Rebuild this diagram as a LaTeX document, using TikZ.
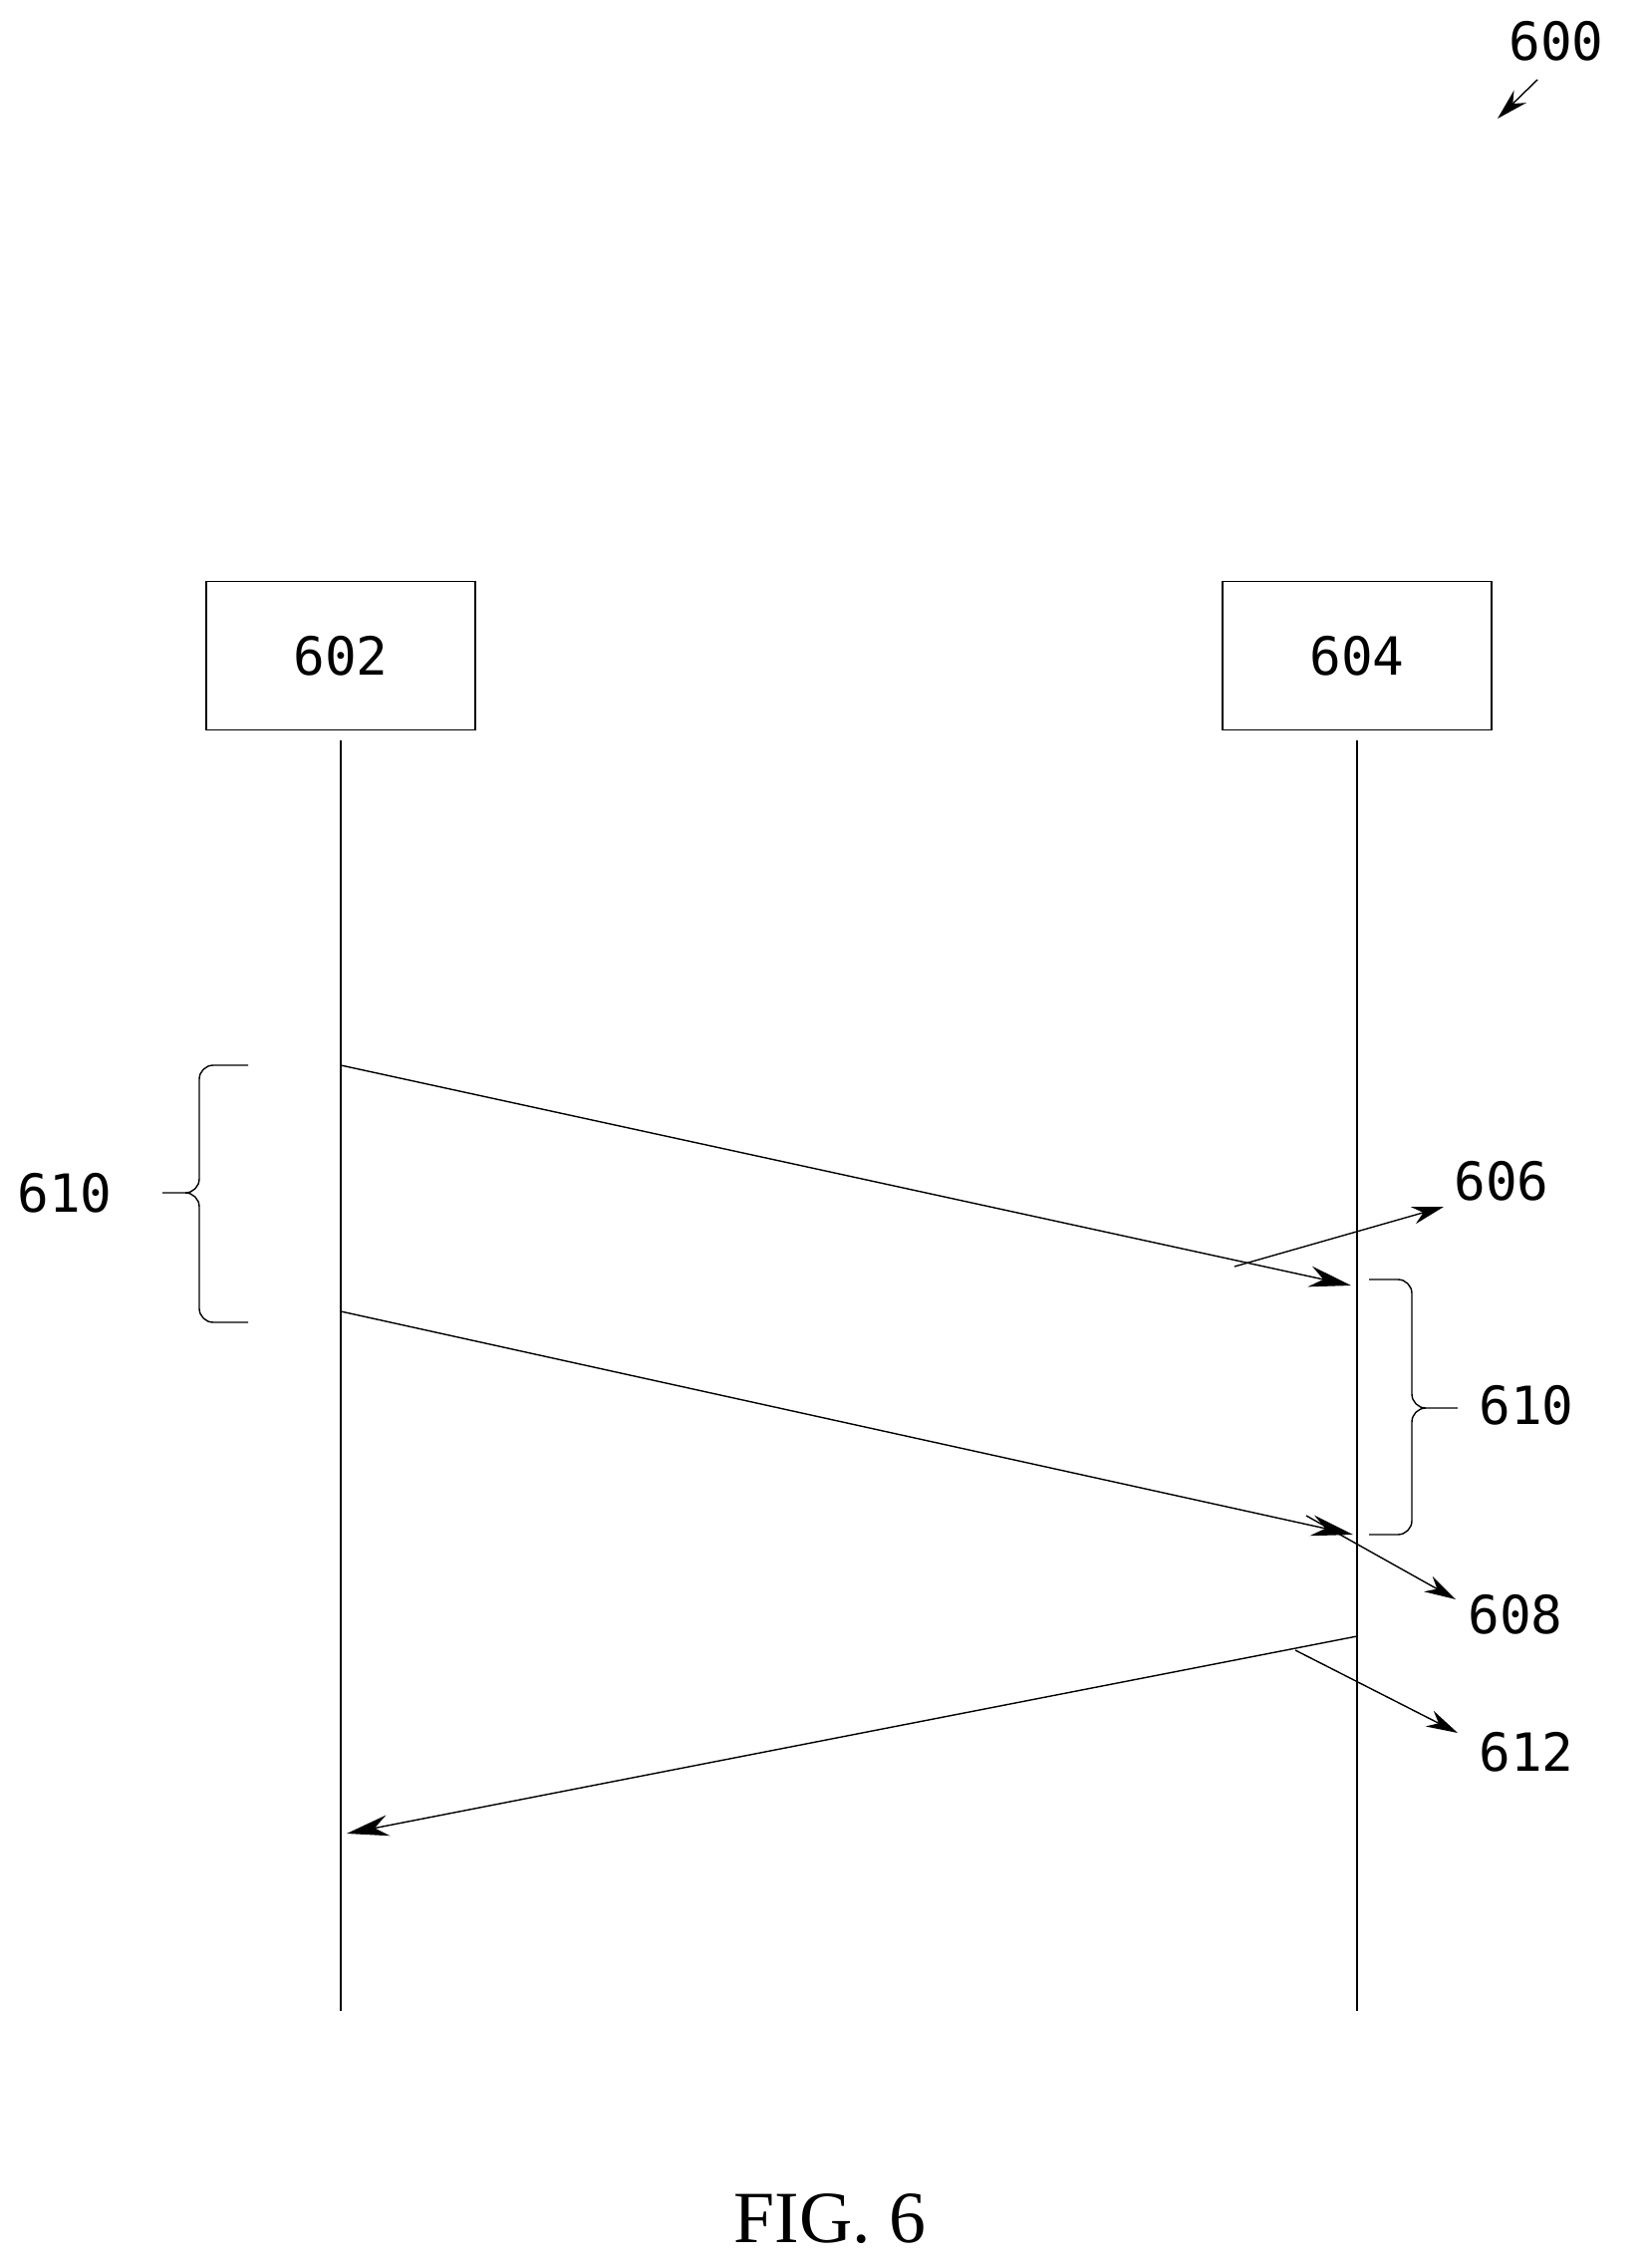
\documentclass[tikz,border=0pt]{standalone}
\usepackage{fontspec}
\setmainfont{Liberation Serif}
\newfontfamily\reffont{DejaVu Sans Mono}
\usetikzlibrary{arrows.meta}
\begin{document}
\begin{tikzpicture}[x=0.01cm,y=-0.01cm]
			\tikzstyle{fleche}=[-{Stealth[length=12pt,width=6pt]},thin]
			\tikzstyle{renvoi}=[-{Stealth[length=9pt,width=5pt]},thin]
			\tikzstyle{boite}=[draw,thin,minimum width=2.7cm,minimum height=1.49cm,inner sep=0pt,font=\reffont\fontsize{15}{18}\selectfont]
			\tikzstyle{numero}=[font=\reffont\fontsize{15}{18}\selectfont,inner sep=1pt]
			\tikzstyle{accolade}=[thin,rounded corners=4pt]
			\def\XGauche{342}
			\def\XDroite{1362}
			\def\YBas{2018}
			\useasboundingbox (0,0) rectangle (1652,2276);
			\node[numero] (N600) at (1562,41) {600};
			\coordinate (F600) at (1543,80);
			\coordinate (P600) at (1503,119);
			\draw[renvoi] (F600)--(P600);
			\node[boite] (A) at ({\XGauche},658) {602};
			\node[boite] (B) at ({\XDroite},658) {604};
			\coordinate (Abas) at ({\XGauche},{\YBas});
			\coordinate (Bbas) at ({\XDroite},{\YBas});
			\draw[thin] ([yshift=-0.1cm]A.south)--(Abas);
			\draw[thin] ([yshift=-0.1cm]B.south)--(Bbas);
			\coordinate (M1a) at ({\XGauche},1069);
			\coordinate (M1b) at ({\XDroite-6},1290);
			\coordinate (M2a) at ({\XGauche},1316);
			\coordinate (M2b) at ({\XDroite-4},1540);
			\coordinate (M3a) at ({\XDroite},1642);
			\coordinate (M3b) at ({\XGauche+6},1840);
			\draw[fleche] (M1a)--(M1b);
			\draw[fleche] (M2a)--(M2b);
			\draw[fleche] (M3a)--(M3b);
			% accolades 610
			\draw[accolade] (249,1069)--(200,1069)--(200,1197)--(155,1197)--(200,1197)--(200,1327)--(249,1327);
			\node[numero,anchor=center] (G610) at (65,1197) {610};
			\draw[accolade] (1374,1284)--(1417,1284)--(1417,1413)--(1471,1413)--(1417,1413)--(1417,1540)--(1374,1540);
			\node[numero] (D610) at (1532,1410) {610};
			% renvois
			\node[numero] (N606) at (1507,1185) {606};
			\node[numero] (N608) at (1521,1620) {608};
			\node[numero] (N612) at (1532,1758) {612};
			\coordinate (R606) at (1239,1271);
			\coordinate (R608) at (1311,1521);
			\coordinate (R612) at (1300,1656);
			\draw[renvoi] (R606)--(1449,1211);
			\draw[renvoi] (R608)--(1461,1605);
			\draw[renvoi] (R612)--(1463,1739);
			\node[font=\fontsize{21}{24}\selectfont] (Fig) at (833,2227) {FIG. 6};
		\end{tikzpicture}
\end{document}
